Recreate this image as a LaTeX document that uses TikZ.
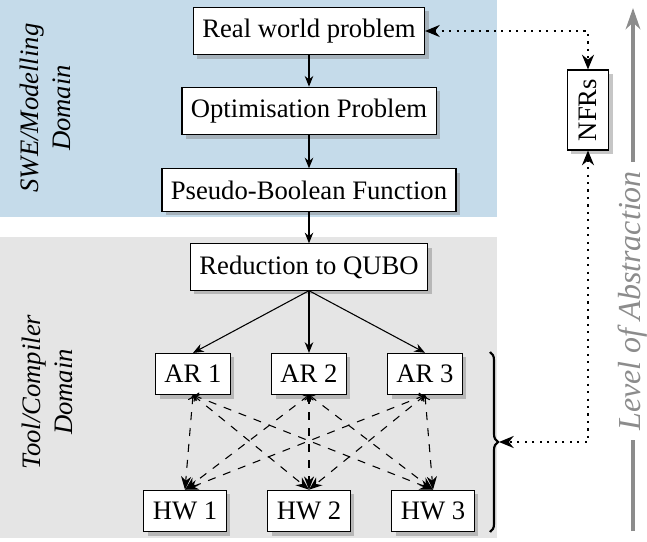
\documentclass[tikz,border=0pt]{standalone}
\usepackage{fontspec}
\setmainfont{Liberation Serif}
\usetikzlibrary{arrows.meta,shadows,decorations.pathreplacing}
\definecolor{swebg}{RGB}{197,219,234}
\definecolor{toolbg}{RGB}{229,229,229}
\definecolor{abstrgray}{RGB}{140,140,140}
\begin{document}
\begin{tikzpicture}[x=0.375pt,y=-0.375pt,
  box/.style={draw=black,fill=white,inner ysep=4.4pt,drop shadow={shadow xshift=1.5pt,shadow yshift=-1.5pt,opacity=0.45}},
  flow/.style={-{Stealth[length=4pt,width=3.2pt]}},
  map/.style={dashed,{To[length=2pt,width=3.5pt]}-{Stealth[length=5pt,width=3.8pt]}},
  nfr/.style={dotted,thick,{Stealth[length=5.5pt,width=4.5pt]}-{Stealth[length=5.5pt,width=4.5pt]}},
  domainlbl/.style={rotate=90,align=center,font=\itshape}]
 \useasboundingbox (0,0) rectangle (647,542);
 % domains
 \fill[swebg] (0,0) rectangle (497,217);
 \fill[toolbg] (0,237) rectangle (497,538);
 \node (swe lbl) at (45,108) [domainlbl] {SWE/Modelling\\Domain};
 \node (tool lbl) at (47,392) [domainlbl] {Tool/Compiler\\Domain};
 % modelling chain
 \node (real) at (309,31) [box] {Real world problem};
 \node (opt) at (309,111) [box] {Optimisation Problem};
 \node (pbf) at (309,190) [box] {Pseudo-Boolean Function};
 \node (qubo) at (309,267) [box] {Reduction to QUBO};
 \node (ar1) at (193,374) [box] {AR 1};
 \node (ar2) at (309,374) [box] {AR 2};
 \node (ar3) at (425,374) [box] {AR 3};
 \node (hw1) at (185,511) [box] {HW 1};
 \node (hw2) at (309,511) [box] {HW 2};
 \node (hw3) at (433,511) [box] {HW 3};
 \node (nfrs) at (588,110) [box,rotate=90] {NFRs};
 \draw[flow] (real) -- (opt);
 \draw[flow] (opt) -- (pbf);
 \draw[flow] (pbf) -- (qubo);
 \foreach \i in {1,2,3}
  \draw[flow] (qubo.south) -- (ar\i.north);
 \foreach \i in {1,2,3}
  \foreach \j in {1,2,3}
   \draw[map] (ar\i.south) -- (hw\j.north);
 % brace over the hardware mappings
 \coordinate (brace top) at (490,352);
 \coordinate (brace bot) at (490,532);
 \coordinate (brace tip) at (499,442);
 \draw[thick,decorate,decoration={brace,amplitude=3pt}] (brace top) -- (brace bot);
 % non-functional requirements
 \draw[nfr] (real.east) -| (nfrs.east);
 \draw[nfr] (nfrs.west) |- (brace tip);
 % abstraction axis
 \coordinate (abs low) at (633,531);
 \coordinate (abs high) at (633,8);
 \draw[abstrgray,line width=1.2pt,-{Stealth[length=8pt,width=5.5pt]}] (abs low) -- node[pos=0.44,fill=white,rotate=90,text=abstrgray,font=\large\itshape] (abs lbl) {Level of Abstraction} (abs high);
\end{tikzpicture}
\end{document}
